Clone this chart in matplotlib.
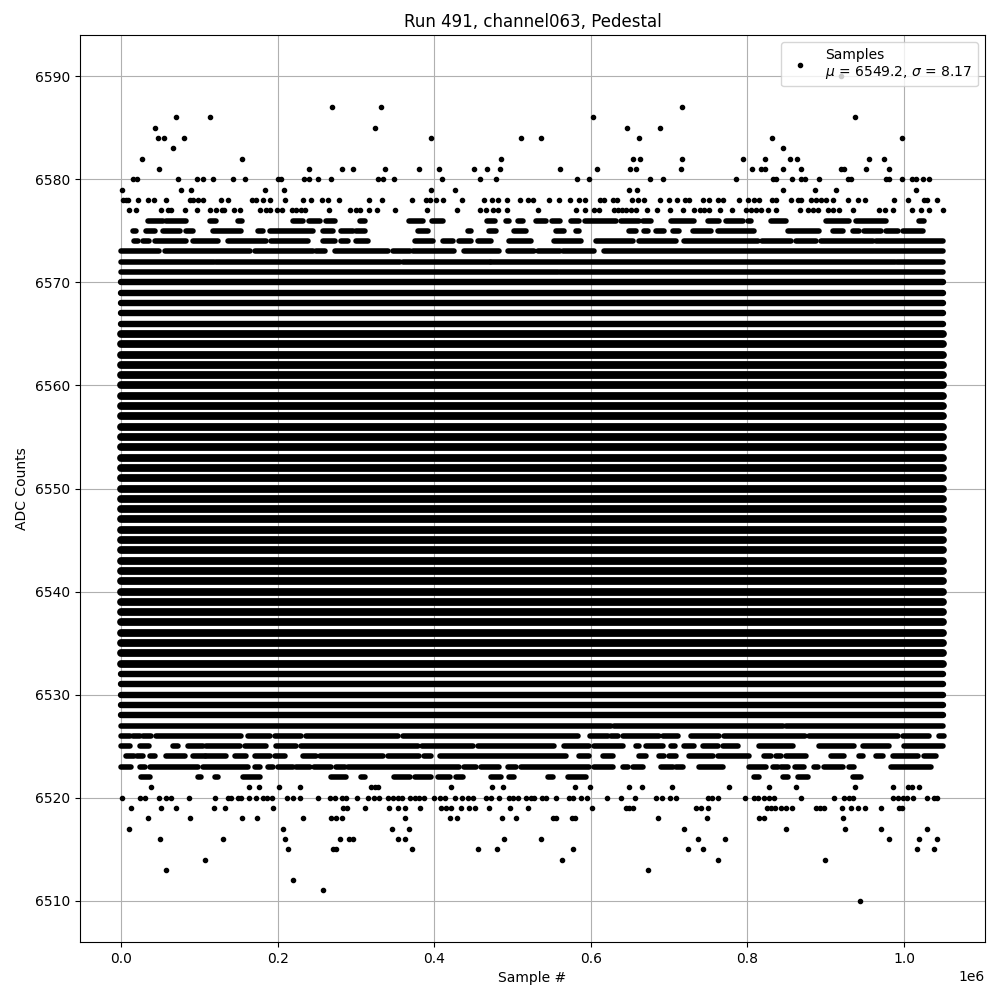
import matplotlib
matplotlib.use("Agg")
import matplotlib.pyplot as plt

pts_6590 = [920]
pts_6587 = [269, 332, 717]
pts_6586 = [70, 113.4, 602.5, 937]
pts_6585 = [43, 324, 646, 688]
pts_6584 = [47, 55, 80, 395.6, 510.6, 536, 661, 831, 998]
pts_6583 = [66, 846]
pts_6582 = [26.6, 154.3, 485, 653.6, 662.6, 717, 794, 822, 854, 863, 955, 974]
pts_6581 = [48, 240, 282, 296, 337, 380, 406, 450.5, 468, 484, 560, 608, 650, 657.4, 715,
            806, 818, 822, 845, 869, 919, 924, 952, 981]
pts_6580 = [15, 20, 72.5, 97, 104.5, 117, 143, 158, 200, 204, 234, 239.4, 252, 268, 328, 334, 348.4,
            410, 458, 478.6, 582, 597.4, 675, 692, 785, 833, 837, 857, 869, 874, 891, 928, 933,
            977, 981, 998, 1010, 1015, 1024, 1032]
pts_6579 = [1, 76.4, 89, 184, 208, 395.6, 426, 648.5, 658.7, 846, 886, 913, 1016]
pts_6578 = [2.3, 5.7, 8.3, 21.5, 34, 41.5, 57, 88, 92, 98, 104.5, 127.5, 136.4, 167, 172.6, 181, 190.5,
            209.6, 232, 242.4, 257, 264, 278, 316.5, 333, 371, 389, 394, 402.4, 411, 435, 463, 474, 481,
            492.7, 509, 519.5, 526, 546.3, 559, 574, 584.6, 592, 611.5, 616.5, 628, 633, 652, 660, 668.5,
            688, 699.6, 710, 720, 725, 743, 751.5, 762, 768.5, 789, 800.5, 809, 814.5, 831, 836, 856,
            864.5, 869, 881.4, 888, 894, 900.5, 910, 928, 941, 950.7, 987, 1005, 1026, 1030, 1042]
pts_6577 = [9.5, 18.5, 51, 60, 64, 81.5, 97, 114, 121.5, 129, 132, 144, 152, 177, 185.4, 190.5, 199.4,
            205.4, 218, 223.7, 230, 235, 265, 292, 299.5, 304.5, 316.5, 327, 349.7, 390.5, 428.8, 458,
            466.3, 474.8, 481, 492.7, 532, 580.8, 593, 604.6, 610, 629, 634.4, 640, 645, 651.5, 658, 672,
            684, 700.8, 717.5, 732.4, 739, 745, 751.5, 765, 780.5, 798, 804.7, 811, 817.5, 826, 836.6,
            867.3, 877, 883.5, 890, 902.6, 909, 917.5, 934.6, 968, 976, 985.6, 1010, 1021.8, 1032.5, 1049.5]
pts_6521 = [38, 163.2, 176, 201.5, 228.3, 319.5, 323.7, 328, 421, 474, 487.6, 579.5, 598.7, 648.5, 665,
            703.4, 776, 827, 861.8, 937, 985.6, 1004.8, 1009.9, 1018.9]
pts_6520 = [1, 23.6, 30, 49, 57.6, 64, 86.6, 119.8, 136.4, 140.6, 149.2, 153.4, 163.2, 172.6, 181, 186.6,
            193, 211.7, 219.4, 228, 251.3, 266.2, 272.6, 282, 287.5, 300.7, 315, 322.8, 329, 340.7, 347,
            353.5, 359, 368.4, 374.8, 381, 387.5, 400.3, 407.5, 414.3, 426.7, 435.2, 442.9, 450, 466.3,
            472.7, 482.5, 495.2, 500.3, 506.7, 517.4, 523.8, 528, 537.8, 542.9, 555.7, 572.7, 577, 587.6,
            594.8, 620.8, 638.7, 656.1, 683.4, 690.6, 701.3, 709, 749.4, 754.9, 763, 796.6, 809, 813.2,
            820.9, 827.3, 833.7, 868.2, 910.3, 923, 930.3, 935.4, 985.6, 992, 998.4, 1003.5, 1011.2,
            1029, 1038.9, 1041.8]
pts_6519 = [12.5, 50.8, 70, 118.5, 132.6, 193.9, 283.3, 288.8, 311.4, 342, 353.5, 362, 381.6, 408.8, 415.2,
            421.6, 433.9, 444, 451.8, 469.7, 496.5, 519.5, 601.2, 645, 649.3, 653.6, 734.5, 740.9, 749.4,
            824.7, 830.3, 835.8, 843, 849.4, 857, 887.7, 892.8, 898.4, 921, 932, 941, 949.9, 970.3, 993.3, 997.6]
pts_6518 = [34.2, 87.9, 154.3, 173.4, 232.2, 268, 274.7, 282, 362.4, 419.5, 428.8, 486.3, 504.2, 551.4, 555.7,
            575.7, 580, 685.5, 748, 815.4, 820.9, 921.8]
pts_6517 = [10, 206.6, 345.8, 367.5, 718.7, 849, 924.4, 970.3, 1029]
pts_6516 = [49.6, 130, 209.2, 279.4, 290.9, 296, 354, 362, 488.8, 536, 736.6, 771, 980.5, 1018.9, 1041.8]
pts_6515 = [213, 270.5, 274.7, 371.4, 455.6, 479.9, 577, 723.8, 743, 1016.3, 1038]
pts_6514 = [107, 562.9, 762.2, 898.8]
pts_6513 = [57.2, 672.7]
pts_6512 = [219.4]
pts_6511 = [257.7]
pts_6510 = [943.5]

point_rows = [(6590, pts_6590), (6587, pts_6587), (6586, pts_6586), (6585, pts_6585), (6584, pts_6584),
              (6583, pts_6583), (6582, pts_6582), (6581, pts_6581), (6580, pts_6580), (6579, pts_6579),
              (6578, pts_6578), (6577, pts_6577), (6521, pts_6521), (6520, pts_6520), (6519, pts_6519),
              (6518, pts_6518), (6517, pts_6517), (6516, pts_6516), (6515, pts_6515), (6514, pts_6514),
              (6513, pts_6513), (6512, pts_6512), (6511, pts_6511), (6510, pts_6510)]

# rows that merge into runs of touching dots: (first, last) sample of each run
runs_6576 = [(6.6, 6.6), (19, 19), (34, 53.4), (57.6, 83), (91, 91), (100, 100), (113, 121.5), (140.6, 140.6),
             (149, 155), (167.5, 167.5), (177, 177), (185.4, 185.4), (194, 194), (209, 209), (219.4, 232),
             (240, 253.5), (262, 272.6), (282, 282), (294, 294), (304.5, 311), (325.4, 325.4), (338, 338),
             (351, 351), (361, 361), (368, 385.4), (397, 411), (443, 443), (450, 450), (468, 477), (492, 496),
             (506.7, 513), (519.5, 519.5), (530, 543), (551, 560), (575, 585.5), (592, 632), (638.7, 662),
             (666.4, 677), (683.4, 683.4), (694, 694), (702.5, 732.4), (749.4, 764), (772.8, 794), (800.5, 805),
             (819.6, 819.6), (830, 849.4), (873.7, 873.7), (890, 890), (900.5, 930), (939, 977), (993.3, 993.3),
             (1006, 1006), (1019.7, 1026)]
runs_6575 = [(6.6, 6.6), (15, 19.3), (32, 43), (53.4, 74.7), (83, 92), (100, 100), (117, 153.4), (174.7, 181),
             (190, 245), (249, 249), (257.7, 270.5), (281, 296), (300, 311), (333.5, 333.5), (343, 343),
             (353.5, 353.5), (367.5, 367.5), (379, 392), (397, 397), (413, 413), (421.6, 421.6), (432, 432),
             (443, 447), (464, 464), (470.5, 479), (502.5, 517.4), (538.6, 538.6), (555.7, 566), (581, 585.5),
             (614, 614), (623, 623), (636.6, 636.6), (649.3, 658), (668.5, 672.7), (683.4, 694), (704.7, 713),
             (721, 721), (730, 753.6), (762, 809), (824, 824), (833.7, 833.7), (851.6, 892), (909, 921.8),
             (934.6, 943), (949.5, 970.8), (977, 992), (998.4, 1024), (1049.5, 1049.5)]
runs_6574 = [(1, 1), (8.7, 8.7), (17, 21.5), (28, 36), (42.7, 83), (91.7, 123.6), (136.4, 185.4), (191.7, 238.6),
             (249, 249), (257.7, 272.6), (281, 289.6), (300, 315), (323.7, 323.7), (340.7, 340.7), (351.4, 351.4),
             (374.8, 398), (411, 423.7), (432.2, 447), (455.6, 472.7), (487.6, 487.6), (496, 523.7), (532.3, 532.3),
             (543.8, 543.8), (553.6, 587.6), (594.8, 594.8), (606.8, 653.6), (662, 709), (719.6, 813.2),
             (818.8, 855.8), (862.2, 887.7), (894, 960), (964.4, 1049.5)]
runs_6573 = [(0, 49), (55.5, 164), (170.5, 245), (249, 260), (272.6, 340.7), (347, 368.4), (372.6, 425.8),
             (432, 432), (438.6, 483.3), (487.6, 487.6), (494, 528), (532.3, 560), (564, 604.6), (609.7, 609.7),
             (617.4, 1050)]
runs_6572 = [(0, 119), (121, 356), (360, 471), (473, 988), (991, 1050)]
runs_6571 = [(0, 558), (561, 1050)]
runs_6527 = [(0, 626), (630, 846), (849, 1050)]
runs_6526 = [(0, 11), (15, 23.5), (28, 38.5), (45, 153.4), (162, 189.6), (192, 192), (196, 230), (236.4, 353.5),
             (359.9, 583), (599, 621.7), (626, 634.4), (640.8, 687.7), (692, 711), (716, 716), (728, 764),
             (770.7, 873), (879, 992), (998.4, 1032.5), (1039, 1039), (1045, 1051)]
runs_6525 = [(0, 11), (16.3, 16.3), (23.6, 35.5), (48, 48), (66, 72.5), (85.3, 104.5), (108.7, 151.3), (157.7, 185.4),
             (191.7, 191.7), (198, 223.7), (230, 379), (384.5, 449), (455.6, 553.6), (558.7, 558.7), (566.3, 598),
             (604.6, 640.8), (647, 647), (657.9, 662), (670.6, 692), (702.5, 707), (713, 713), (719.6, 732.4),
             (743, 762), (768.5, 787.7), (798.3, 798.3), (806.9, 806.9), (815.4, 858), (864.3, 864.3), (878.4, 878.4),
             (892, 936.7), (941, 941), (947.3, 981.4), (989, 989), (1000.5, 1049.5)]
runs_6524 = [(6.6, 16), (20, 28), (36.4, 42.7), (51, 51), (57.6, 81), (91.7, 106.6), (108.7, 134), (140.6, 140.6),
             (145, 160), (170.5, 189.6), (196, 208.8), (214, 214), (223.7, 223.7), (232, 249), (253.5, 334.4),
             (340.7, 381), (387.5, 396), (400, 400), (406.7, 568), (585.5, 598.3), (606.8, 606.8), (615.3, 628),
             (634.4, 634.4), (645, 645), (662, 670.6), (677, 677), (687.7, 694), (700.4, 709), (726, 755.8),
             (762, 802.6), (813.2, 813.2), (821.8, 830), (836.6, 843), (849.4, 875), (879, 879), (895.4, 895.4),
             (907, 924), (931.6, 931.6), (943, 947.3), (955, 955), (964.4, 973), (985.6, 1017.6), (1026, 1041),
             (1046, 1046)]
runs_6523 = [(0, 13), (23.6, 30), (36.4, 98), (104.5, 162), (170.5, 177), (187.5, 194), (200, 219.4), (223.7, 240.7),
             (247, 268.4), (274.7, 285.4), (289.6, 432.2), (438.6, 453.5), (460, 483.3), (494, 504.6), (511, 598.2),
             (604.6, 628), (641.7, 647), (653.6, 666.4), (683, 683), (689.8, 704.7), (709, 717.5), (729.4, 729.4),
             (737.9, 768.5), (781.3, 781.3), (792.8, 792.8), (802.6, 824), (832.4, 838.8), (843, 851.6), (861.4, 872.8),
             (885.6, 889.9), (898.4, 921.8), (930.3, 936.7), (946.5, 946.5), (955, 955), (962, 962), (969, 969),
             (983.5, 1034.6), (1043, 1043), (1051, 1051)]
runs_6522 = [(0.2, 0.2), (6.6, 6.6), (25.7, 36.4), (64, 64), (76.4, 76.4), (91.7, 91.7), (98, 102.3), (119.4, 123.6),
             (132.6, 132.6), (145.3, 145.3), (155.5, 176.8), (184.5, 184.5), (202.8, 202.8), (214.3, 214.3),
             (248.8, 248.8), (257.7, 257.7), (268.4, 287.5), (306.7, 311), (326.7, 326.7), (336.5, 336.5),
             (349.2, 368.4), (374.8, 396), (404.6, 419.5), (428, 436.5), (449.3, 449.3), (458.2, 458.2), (472.7, 485.4),
             (496, 502.5), (536.5, 536.5), (545, 551.4), (570.6, 594), (632.3, 632.3), (638.7, 638.7), (651, 651),
             (657.9, 657.9), (683.4, 683.4), (689.8, 689.8), (716, 716), (740.9, 740.9), (757, 757), (767.3, 767.3),
             (782.6, 782.6), (794, 794), (809, 815.4), (822.2, 822.2), (835, 835), (845, 851.6), (864.3, 877),
             (896.7, 896.7), (912.9, 912.9), (934.6, 945.2), (958, 958), (963, 963), (987, 987), (994.6, 994.6),
             (1012.5, 1012.5)]

run_rows = [(6576, runs_6576), (6575, runs_6575), (6574, runs_6574), (6573, runs_6573), (6572, runs_6572),
            (6571, runs_6571), (6527, runs_6527), (6526, runs_6526), (6525, runs_6525), (6524, runs_6524),
            (6523, runs_6523), (6522, runs_6522)]

# every ADC level in the core is filled across the whole run
outer_levels = [6528, 6529, 6530, 6531, 6532, 6566, 6567, 6568, 6569, 6570]
core_levels = list(range(6533, 6566))
solid_first = 0
solid_last = 1050

xs = []
ys = []
for level, pts in point_rows:
    for p in pts:
        xs.append(p * 1000)
        ys.append(level)

fig, ax = plt.subplots(figsize=(10, 10))
ax.plot(xs, ys, "k.", label="Samples\n$\\mu$ = 6549.2, $\\sigma$ = 8.17")

for level, runs in run_rows:
    for first, last in runs:
        ax.plot([first * 1000, last * 1000], [level, level], color="k", lw=4, solid_capstyle="round")
# the core rows come out fatter, so many dots pile up there
for level in outer_levels:
    ax.plot([solid_first * 1000, solid_last * 1000], [level, level], color="k", lw=4.6, solid_capstyle="round")
for level in core_levels:
    ax.plot([solid_first * 1000, solid_last * 1000], [level, level], color="k", lw=5.6, solid_capstyle="round")

ax.set_title("Run 491, channel063, Pedestal")
ax.set_xlabel("Sample #")
ax.set_ylabel("ADC Counts")
ax.grid(True)
ax.legend(loc="upper right")
fig.subplots_adjust(left=0.08, right=0.985, top=0.965, bottom=0.058)
fig.savefig("out.png", dpi=100)
